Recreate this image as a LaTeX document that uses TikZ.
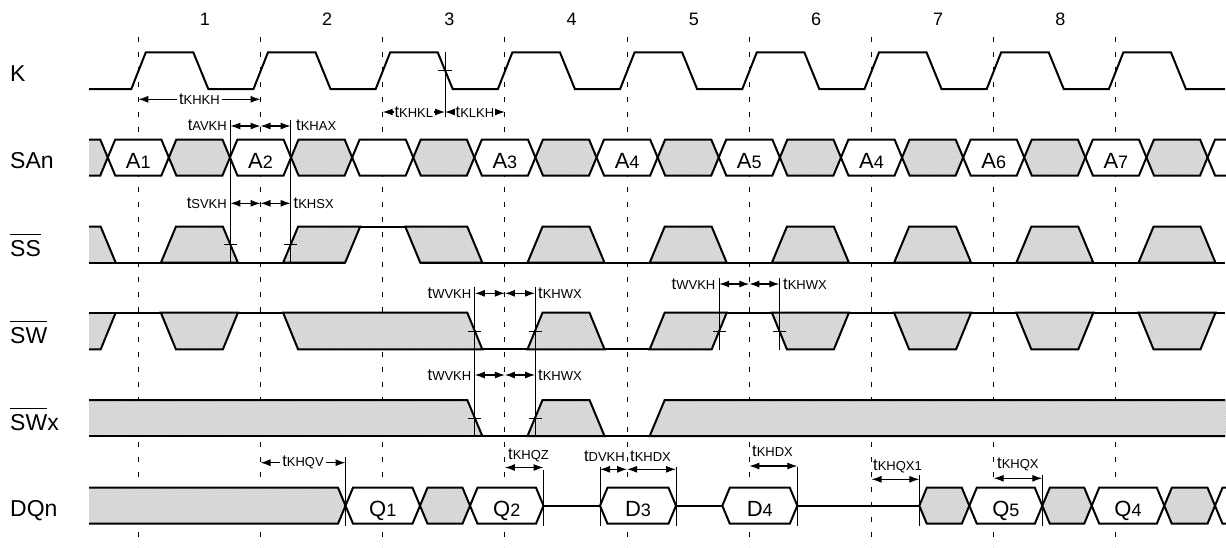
\documentclass[tikz,border=0pt]{standalone}
\usepackage{fontspec}
\setmainfont{Liberation Sans}
\usetikzlibrary{arrows.meta,patterns}
\pgfdeclarepatternformonly{fine ne lines}{\pgfqpoint{-1pt}{-1pt}}{\pgfqpoint{3.5pt}{3.5pt}}{\pgfqpoint{2.5pt}{2.5pt}}{%
 \pgfsetlinewidth{0.4pt}\pgfpathmoveto{\pgfqpoint{0pt}{0pt}}\pgfpathlineto{\pgfqpoint{2.6pt}{2.6pt}}\pgfusepath{stroke}}
\newcommand\ovl[1]{\vbox{\hrule height 1.4pt\kern 5pt\hbox{#1}}}
\newcommand\tm[1]{t{\fontsize{13}{15}\selectfont #1}}
\newcommand\sv[2]{#1{\fontsize{18}{20}\selectfont #2}}
\definecolor{hatchbg}{gray}{0.9}
\definecolor{hatchln}{gray}{0.76}
\tikzset{
 sigline/.style={line width=2pt, line join=miter, line cap=butt},
 hatch/.style={preaction={fill=hatchbg}, pattern=fine ne lines, pattern color=hatchln},
 gridline/.style={line width=1.1pt, dash pattern=on 5pt off 10pt},
 thinline/.style={line width=1pt},
 dim/.style={line width=1.1pt, {Latex[length=10pt,width=7pt]}-{Latex[length=10pt,width=7pt]}},
 annot/.style={font=\fontsize{16.5}{18}\selectfont, inner sep=0pt},
 lbl/.style={font=\fontsize{23}{27}\selectfont, inner sep=0pt, anchor=base west},
 num/.style={font=\fontsize{18}{20}\selectfont, inner sep=0pt},
 val/.style={font=\fontsize{22}{24}\selectfont, inner sep=0pt, anchor=base},
}
\begin{document}
\begin{tikzpicture}[x=1pt,y=-1pt]
\useasboundingbox (0,0) rectangle (1226,547);
% grid
\foreach \k in {0,...,8} \draw[gridline] ({138.3+122.2*\k},37) -- ({138.3+122.2*\k},547);
\foreach \k in {1,...,8} \node[num] (n\k) at ({205+122.2*(\k-1)},19) {\k};
% labels
\node[lbl] (lk) at (10,81.7) {K};
\node[lbl] (lsa) at (10,168) {SAn};
\node[lbl] (lss) at (10,256) {\ovl{SS}};
\node[lbl] (lsw) at (10,343.3) {\ovl{SW}};
\node[lbl] (lswx) at (10,430) {\ovl{SW}x};
\node[lbl] (ldq) at (10,516.7) {DQn};
% K clock
\draw[sigline] (89,89) \foreach \k in {0,...,8}{ -- ({138.3+122.2*\k-7},89) -- ({138.3+122.2*\k+7.5},52.3) -- ({138.3+122.2*\k+55},52.3) -- ({138.3+122.2*\k+70},89)} -- (1225,89);
% SAn bus
\fill[hatch] (89,139.5) -- (100.25,139.5) -- (107.75,157.5) -- (100.25,175.5) -- (89,175.5) -- cycle;
\draw[sigline] (89,139.5) -- (100.25,139.5) -- (107.75,157.5) -- (100.25,175.5) -- (89,175.5);
\foreach \j in {0,2,...,16}{
 \path[sigline,draw,fill=white] ({107.75+61.1*\j},157.5) -- ({115.25+61.1*\j},139.5) -- ({161.35+61.1*\j},139.5) -- ({168.85+61.1*\j},157.5) -- ({161.35+61.1*\j},175.5) -- ({115.25+61.1*\j},175.5) -- cycle;
}
\foreach \j in {1,3,...,17}{
 \path[sigline,draw,hatch] ({107.75+61.1*\j},157.5) -- ({115.25+61.1*\j},139.5) -- ({161.35+61.1*\j},139.5) -- ({168.85+61.1*\j},157.5) -- ({161.35+61.1*\j},175.5) -- ({115.25+61.1*\j},175.5) -- cycle;
}
\draw[sigline] (1226,139.5) -- (1215.05,139.5) -- (1207.55,157.5) -- (1215.05,175.5) -- (1226,175.5);
\node[val] (a1) at (138.3,168) {\sv{A}{1}};
\node[val] (a2) at (260.5,168) {\sv{A}{2}};
\node[val] (a3) at (504.9,168) {\sv{A}{3}};
\node[val] (a4) at (627.1,168) {\sv{A}{4}};
\node[val] (a5) at (749.3,168) {\sv{A}{5}};
\node[val] (a4b) at (871.5,168) {\sv{A}{4}};
\node[val] (a6) at (993.7,168) {\sv{A}{6}};
\node[val] (a7) at (1115.9,168) {\sv{A}{7}};
% SS
\fill[hatch] (89,226.7) -- (100.7,226.7) -- (115.7,262.7) -- (89,262.7) -- cycle;
\draw[sigline] (89,226.7) -- (100.7,226.7) -- (115.7,262.7);
\draw[sigline] (89,262.7) -- (345.1,262.7);
\draw[sigline] (420.3,262.7) -- (1225,262.7);
\draw[sigline] (298.1,226.7) -- (405.3,226.7);
\foreach \c in {199.4,566.0,688.2,810.4,932.6,1054.8,1177.0}
 \path[sigline,draw,hatch] ({\c-38.5},262.7) -- ({\c-23.5},226.7) -- ({\c+23.5},226.7) -- ({\c+38.5},262.7) -- cycle;
\path[sigline,draw,hatch] (283.1,262.7) -- (298.1,226.7) -- (360.1,226.7) -- (345.1,262.7) -- cycle;
\path[sigline,draw,hatch] (405.3,226.7) -- (467.3,226.7) -- (482.3,262.7) -- (420.3,262.7) -- cycle;
% SW
\fill[hatch] (89,312.7) -- (115.7,312.7) -- (100.7,349.3) -- (89,349.3) -- cycle;
\draw[sigline] (89,349.3) -- (100.7,349.3) -- (115.7,312.7);
\draw[sigline] (89,312.7) -- (467.3,312.7);
\draw[sigline] (664.7,312.7) -- (1225,312.7);
\draw[sigline] (298.1,349.3) -- (711.7,349.3);
\foreach \c in {199.4,810.4,932.6,1054.8,1177.0}
 \path[sigline,draw,hatch] ({\c-38.5},312.7) -- ({\c-23.5},349.3) -- ({\c+23.5},349.3) -- ({\c+38.5},312.7) -- cycle;
\path[sigline,draw,hatch] (283.1,312.7) -- (467.3,312.7) -- (482.3,349.3) -- (298.1,349.3) -- cycle;
\path[sigline,draw,hatch] (527.5,349.3) -- (542.5,312.7) -- (589.5,312.7) -- (604.5,349.3) -- cycle;
\path[sigline,draw,hatch] (649.7,349.3) -- (664.7,312.7) -- (726.7,312.7) -- (711.7,349.3) -- cycle;
% SWx
\fill[hatch] (89,400) -- (467.3,400) -- (482.3,436) -- (89,436) -- cycle;
\draw[sigline] (89,400) -- (467.3,400) -- (482.3,436);
\draw[sigline] (89,436) -- (649.7,436);
\path[sigline,draw,hatch] (527.5,436) -- (542.5,400) -- (589.5,400) -- (604.5,436) -- cycle;
\fill[hatch] (649.7,436) -- (664.7,400) -- (1226,400) -- (1226,436) -- cycle;
\draw[sigline] (1225,400) -- (664.7,400) -- (649.7,436) -- (1225,436);
% DQn
\fill[hatch] (89,487.7) -- (338,487.7) -- (345.5,505.7) -- (338,523.7) -- (89,523.7) -- cycle;
\draw[sigline] (89,487.7) -- (338,487.7) -- (345.5,505.7) -- (338,523.7) -- (89,523.7);
\foreach \a/\b in {345.5/420,470/543.5,600/676,722.3/797.3,969.3/1042.3,1091.7/1164.3}
 \path[sigline,draw,fill=white] (\a,505.7) -- ({\a+7.5},487.7) -- ({\b-7.5},487.7) -- (\b,505.7) -- ({\b-7.5},523.7) -- ({\a+7.5},523.7) -- cycle;
\foreach \a/\b in {420/470,919.3/969.3,1042.3/1091.7,1164.3/1215}
 \path[sigline,draw,hatch] (\a,505.7) -- ({\a+7.5},487.7) -- ({\b-7.5},487.7) -- (\b,505.7) -- ({\b-7.5},523.7) -- ({\a+7.5},523.7) -- cycle;
\draw[sigline] (1226,487.7) -- (1222.5,487.7) -- (1215,505.7) -- (1222.5,523.7) -- (1226,523.7);
\draw[sigline] (543.5,505.7) -- (600,505.7) (676,505.7) -- (722.3,505.7) (797.3,505.7) -- (919.3,505.7);
\node[val] (q1) at (382.75,516) {\sv{Q}{1}};
\node[val] (q2) at (506.75,516) {\sv{Q}{2}};
\node[val] (d3) at (638,516) {\sv{D}{3}};
\node[val] (d4) at (759.8,516) {\sv{D}{4}};
\node[val] (q5) at (1005.8,516) {\sv{Q}{5}};
\node[val] (q4) at (1128,516) {\sv{Q}{4}};
% K annotations
\draw[dim] (138.3,99.3) -- node[annot, fill=white, inner xsep=2pt, inner ysep=1pt] (tkhkh) {\tm{KHKH}} (260.5,99.3);
\draw[thinline] (445,52) -- (445,117) (438,70.7) -- (452,70.7);
\draw[dim] (382.7,112) -- node[annot, fill=white, inner xsep=0.5pt, inner ysep=1pt] (tkhkl) {\tm{KHKL}} (445,112);
\draw[dim] (445,112) -- node[annot, fill=white, inner xsep=0.5pt, inner ysep=1pt] (tklkh) {\tm{KLKH}} (504.9,112);
% SAn / SS annotations
\draw[thinline] (230.4,120) -- (230.4,262.7) (290.6,120) -- (290.6,262.7);
\draw[thinline] (223.9,244) -- (236.9,244) (284.1,244) -- (297.1,244);
\draw[dim] (230.4,126) -- (260.5,126);
\draw[dim] (260.5,126) -- (290.6,126);
\node[annot, anchor=base east] (tavkh) at (227,130) {\tm{AVKH}};
\node[annot, anchor=base west] (tkhax) at (296,130) {\tm{KHAX}};
\draw[dim] (230.4,203.3) -- (260.5,203.3);
\draw[dim] (260.5,203.3) -- (290.6,203.3);
\node[annot, anchor=base east] (tsvkh) at (227,208.3) {\tm{SVKH}};
\node[annot, anchor=base west] (tkhsx) at (293.5,208.3) {\tm{KHSX}};
% SW / SWx annotations
\draw[thinline] (474.8,287) -- (474.8,437) (535,287) -- (535,437);
\draw[thinline] (468.3,331) -- (481.3,331) (528.5,331) -- (541.5,331) (468.3,418) -- (481.3,418) (528.5,418) -- (541.5,418);
\draw[dim] (474.8,293.3) -- (504.9,293.3);
\draw[dim] (504.9,293.3) -- (535,293.3);
\node[annot, anchor=base east] (twvkh1) at (471.5,298.3) {\tm{WVKH}};
\node[annot, anchor=base west] (tkhwx1) at (538,298.3) {\tm{KHWX}};
\draw[dim] (474.8,375) -- (504.9,375);
\draw[dim] (504.9,375) -- (535,375);
\node[annot, anchor=base east] (twvkh2) at (471.5,380.7) {\tm{WVKH}};
\node[annot, anchor=base west] (tkhwx2) at (538,380.7) {\tm{KHWX}};
\draw[thinline] (719.2,278.3) -- (719.2,350) (779.4,278.3) -- (779.4,350);
\draw[thinline] (712.7,331) -- (725.7,331) (772.9,331) -- (785.9,331);
\draw[dim] (719.2,284) -- (749.3,284);
\draw[dim] (749.3,284) -- (779.4,284);
\node[annot, anchor=base east] (twvkh3) at (715.5,289.3) {\tm{WVKH}};
\node[annot, anchor=base west] (tkhwx3) at (783,289.3) {\tm{KHWX}};
% DQn annotations
\draw[thinline] (345.5,457) -- (345.5,526);
\draw[thinline] (543.5,470) -- (543.5,525.5);
\draw[thinline] (600,466.7) -- (600,525.5) (676,466.7) -- (676,525.5) (797.3,466.7) -- (797.3,525.5);
\draw[thinline] (919.3,475) -- (919.3,525.5) (1042.3,475) -- (1042.3,525.5);
\draw[dim] (260.5,462.7) -- node[annot, fill=white, inner xsep=2pt, inner ysep=1pt] (tkhqv) {\tm{KHQV}} (345.5,462.7);
\draw[dim] (504.9,467.5) -- (543.5,467.5);
\node[annot, anchor=base west] (tkhqz) at (508,459.5) {\tm{KHQZ}};
\draw[dim] (600,469.3) -- (627.1,469.3);
\draw[dim] (627.1,469.3) -- (676,469.3);
\node[annot, anchor=base east] (tdvkh) at (625,461.5) {\tm{DVKH}};
\node[annot, anchor=base west] (tkhdx1) at (630,461.5) {\tm{KHDX}};
\draw[dim] (749.3,466) -- (797.3,466);
\node[annot, anchor=base west] (tkhdx2) at (752,456.7) {\tm{KHDX}};
\draw[dim] (871.5,479.3) -- (919.3,479.3);
\node[annot, anchor=base west] (tkhqx1) at (873,470) {\tm{KHQX1}};
\draw[dim] (993.7,478.3) -- (1042.3,478.3);
\node[annot, anchor=base west] (tkhqx) at (997,468.3) {\tm{KHQX}};
\end{tikzpicture}
\end{document}
